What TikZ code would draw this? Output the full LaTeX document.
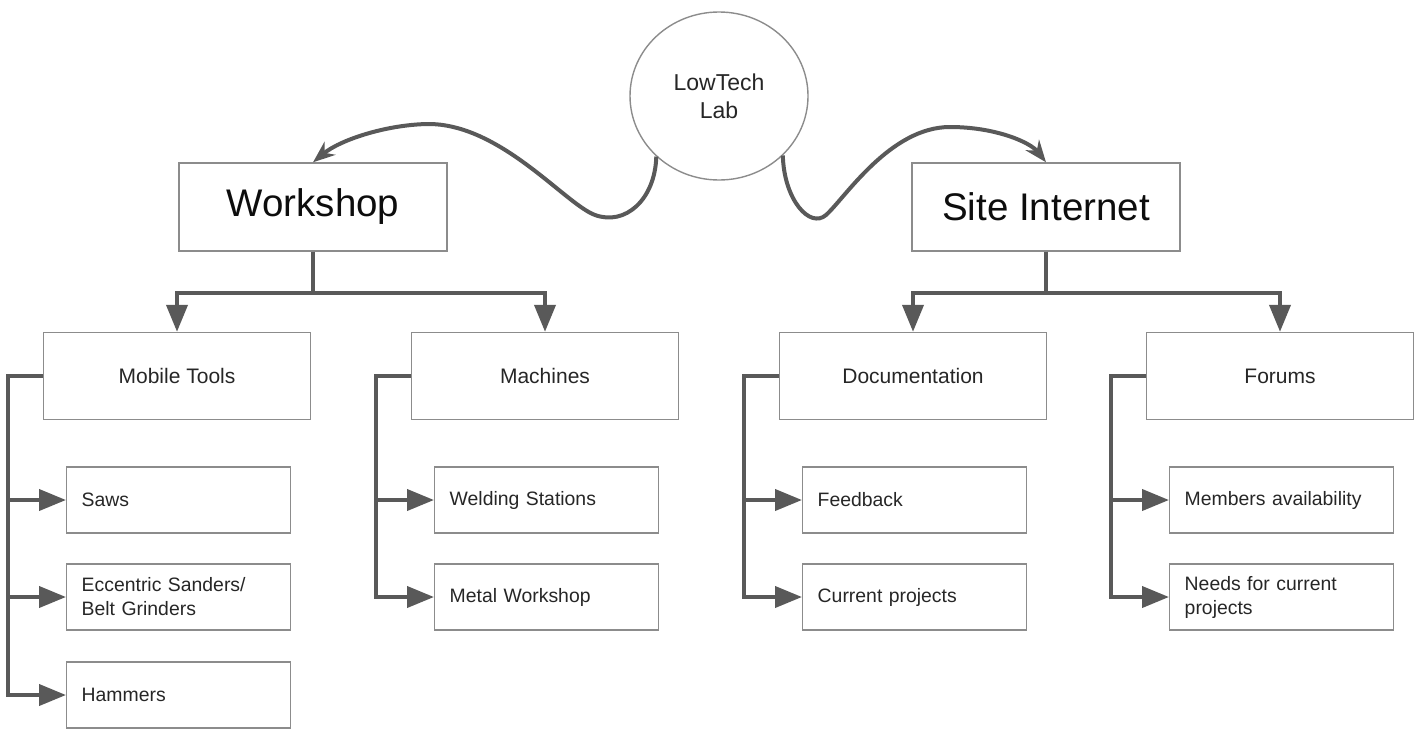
\documentclass[tikz,border=0pt]{standalone}
\usepackage{fontspec}
\setmainfont{Liberation Sans}
\usetikzlibrary{arrows.meta,shapes.geometric}
\definecolor{edge}{HTML}{595959}
\definecolor{rim}{HTML}{8C8C8C}
\begin{document}
\begin{tikzpicture}[x=1pt,y=-1pt,
  every node/.style={draw=rim,line width=1.4pt,text=black!85,align=center,inner sep=0pt},
  topbox/.style={minimum width=268pt,minimum height=88pt,font=\fontsize{38.5}{46}\selectfont,text=black!95},
  midbox/.style={minimum width=267pt,minimum height=87pt,font=\fontsize{21}{25}\selectfont},
  leafbox/.style={anchor=west,minimum height=66pt,text width=194pt,inner xsep=15pt,align=left,font=\fontsize{19.4}{24}\selectfont},
  branch/.style={draw=edge,line width=4pt,-{Triangle[length=27pt,width=21pt]}},
  swoop/.style={draw=edge,line width=4pt,-{Stealth[length=22pt,width=17pt]}}]
\useasboundingbox (0,0) rectangle (1420,731);
\node[ellipse,minimum width=178pt,minimum height=168pt,font=\fontsize{23}{28}\selectfont] (lab) at (719,96) {LowTech\\Lab};
\node[topbox] (ws) at (313,207) {Workshop};
\node[topbox] (si) at (1046,207) {Site Internet};
\node[midbox] (mt) at (177,376) {Mobile Tools};
\node[midbox] (mc) at (545,376) {Machines};
\node[midbox] (doc) at (913,376) {Documentation};
\node[midbox] (fo) at (1280,376) {Forums};
\node[leafbox] (saws) at (66,500) {Saws};
\node[leafbox] (sand) at (66,597) {Eccentric Sanders/\\Belt Grinders};
\node[leafbox] (ham) at (66,695) {Hammers};
\node[leafbox] (weld) at (434,500) {Welding Stations};
\node[leafbox] (metal) at (434,597) {Metal Workshop};
\node[leafbox] (feed) at (802,500) {Feedback};
\node[leafbox] (cur) at (802,597) {Current projects};
\node[leafbox] (memb) at (1169,500) {Members availability};
\node[leafbox] (need) at (1169,597) {Needs for current\\projects};
% curved links from the lab
\draw[swoop] (lab.224) .. controls (655,200) and (625,226) .. (595,215) .. controls (565,204) and (500,123) .. (427,124) .. controls (385,125) and (340,140) .. (ws.north);
\draw[swoop] (lab.-43) .. controls (784,200) and (810,229) .. (826,215) .. controls (845,198) and (890,127) .. (950,127) .. controls (995,127) and (1030,142) .. (si.north);
% tree
\draw[branch] (ws.south) -- ++(0,41) -| (mt.north);\draw[branch] (ws.south) -- ++(0,41) -| (mc.north);
\draw[branch] (si.south) -- ++(0,41) -| (doc.north);\draw[branch] (si.south) -- ++(0,41) -| (fo.north);
\draw[branch] (mt.west) -- ++(-35,0) |- (saws.west);\draw[branch] (mt.west) -- ++(-35,0) |- (sand.west);\draw[branch] (mt.west) -- ++(-35,0) |- (ham.west);
\draw[branch] (mc.west) -- ++(-35,0) |- (weld.west);\draw[branch] (mc.west) -- ++(-35,0) |- (metal.west);
\draw[branch] (doc.west) -- ++(-35,0) |- (feed.west);\draw[branch] (doc.west) -- ++(-35,0) |- (cur.west);
\draw[branch] (fo.west) -- ++(-35,0) |- (memb.west);\draw[branch] (fo.west) -- ++(-35,0) |- (need.west);
\end{tikzpicture}
\end{document}
